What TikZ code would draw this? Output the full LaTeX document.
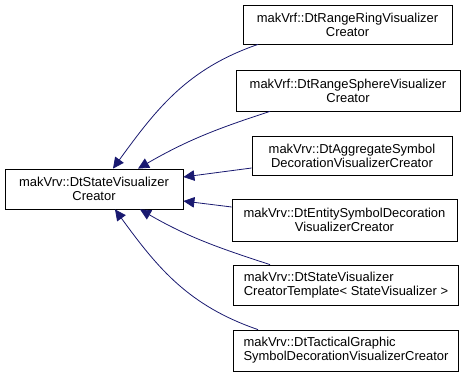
\documentclass[tikz,border=0pt]{standalone}
\usepackage{fontspec}
\setmainfont{Liberation Sans}
\usetikzlibrary{arrows.meta}

\definecolor{edgeblue}{HTML}{191970}

\begin{document}
\begin{tikzpicture}[x=1bp, y=1bp,
        cls/.style={draw=black, line width=0.8bp, fill=white, font=\fontsize{13}{14}\selectfont,
                    inner sep=0pt, align=center},
        inherit/.style={draw=edgeblue, line width=0.8bp, -{Triangle[length=11bp, width=10.5bp]}, shorten >=0pt}]
        % fixed canvas
        \useasboundingbox (0, 0) rectangle (469, 377);

        % the base class
        \node[cls, minimum width=178bp, minimum height=40bp] (base) at (94, 188)
            {makVrv::DtStateVisualizer\\Creator};

        % derived classes
        \node[cls, minimum width=209bp, minimum height=39bp] (ring) at (347.5, 352.5)
            {makVrf::DtRangeRingVisualizer\\Creator};
        \node[cls, minimum width=224bp, minimum height=41bp] (sphere) at (348, 286.5)
            {makVrf::DtRangeSphereVisualizer\\Creator};
        \node[cls, minimum width=200bp, minimum height=39bp] (aggregate) at (352, 221.5)
            {makVrv::DtAggregateSymbol\\DecorationVisualizerCreator};
        \node[cls, minimum width=225bp, minimum height=42bp] (entity) at (344.5, 157)
            {makVrv::DtEntitySymbolDecoration\\VisualizerCreator};
        \node[cls, align=left, minimum width=225bp, minimum height=40bp] (template) at (346, 92)
            {makVrv::DtStateVisualizer\\CreatorTemplate< StateVisualizer >};
        \node[cls, align=left, minimum width=225bp, minimum height=41bp] (tactical) at (346, 26.5)
            {makVrv::DtTacticalGraphic\\SymbolDecorationVisualizerCreator};

        % inheritance arrows
        \draw[inherit] ([xshift=-89.5bp]ring.south) to[out=199, in=54] ([xshift=19bp]base.north);
        \draw[inherit] ([xshift=-78bp]sphere.south) to[out=198, in=30] ([xshift=44bp]base.north);
        \draw[inherit] ([yshift=-12.5bp]aggregate.west) -- ([yshift=12bp]base.east);
        \draw[inherit] ([yshift=13bp]entity.west) -- ([yshift=-12bp]base.east);
        \draw[inherit] ([xshift=-76bp]template.north) to[out=162, in=-30] ([xshift=46bp]base.south);
        \draw[inherit] ([xshift=-88bp]tactical.north) to[out=161, in=-54] ([xshift=21bp]base.south);
    \end{tikzpicture}
\end{document}
